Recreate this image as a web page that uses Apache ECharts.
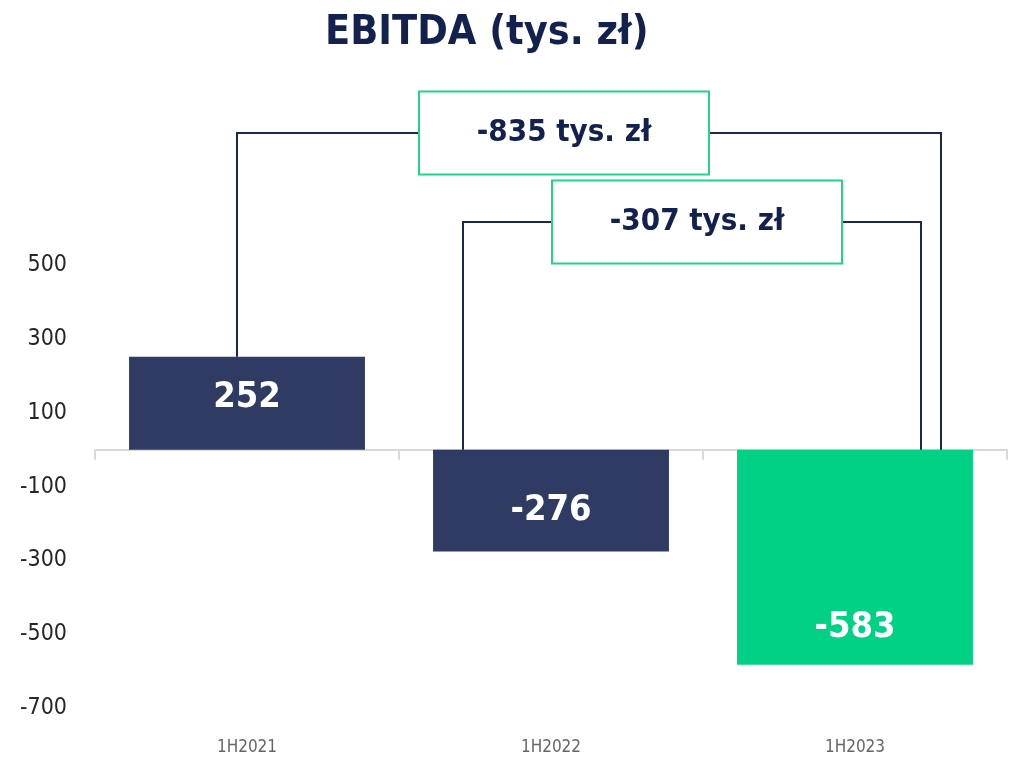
<!DOCTYPE html>
<html>
<head>
<meta charset="utf-8">
<script src="https://cdn.jsdelivr.net/npm/echarts@6/dist/echarts.min.js"></script>
<style>
  html, body { margin: 0; padding: 0; background: #fff; }
  #chart { width: 1015px; height: 764px; }
</style>
</head>
<body>
<div id="chart"></div>
<script>
// data
var periods = ['1H2021', '1H2022', '1H2023'];
var ebitda = [252, -276, -583];
var barColors = ['#2f3b63', '#2f3b63', '#00d185'];
// difference brackets: from period -> to period, drawn at a given height
var diffFrom = [0, 1];
var diffTo = [2, 2];
var diffLevel = [860, 617];
var diffLabels = ['-835 tys. zł', '-307 tys. zł'];

var NAVY = '#13214f';
var FONT = "'DejaVu Sans Condensed', 'Liberation Sans Narrow', sans-serif";

// pixel offsets of the bracket legs and boxes (style only)
var legShift = [[-10, 86], [-88, 66]];
var boxShift = [-25, 5];
var labelShift = [-6, 10, 70];

var myChart = echarts.init(document.getElementById('chart'));

var barData = ebitda.map(function (v, i) {
    return {
        value: v,
        itemStyle: { color: barColors[i] },
        label: { offset: [0, labelShift[i]] }
    };
});

var bracketData = diffFrom.map(function (f, i) {
    var fv = Math.max(ebitda[f], 0);
    var tv = Math.max(ebitda[diffTo[i]], 0);
    return [f, diffTo[i], diffLevel[i], fv, tv];
});

function renderBracket(params, api) {
    var i = params.dataIndex;
    var p1 = api.coord([api.value(0), api.value(3)]);
    var p2 = api.coord([api.value(1), api.value(4)]);
    var lv = Math.round(api.coord([api.value(0), api.value(2)])[1]);
    var x1 = Math.round(p1[0] + legShift[i][0]);
    var x2 = Math.round(p2[0] + legShift[i][1]);
    var cx = Math.round((x1 + x2) / 2 + boxShift[i]);
    var bw = 290, bh = 83;
    return {
        type: 'group',
        children: [
            {
                type: 'polyline',
                shape: { points: [[x1, p1[1]], [x1, lv], [x2, lv], [x2, p2[1]]] },
                style: { stroke: '#1b2750', lineWidth: 2, fill: null }
            },
            {
                type: 'rect',
                shape: { x: cx - bw / 2, y: lv - bh / 2, width: bw, height: bh },
                style: { fill: '#fff', stroke: '#22d48a', lineWidth: 2 }
            },
            {
                type: 'text',
                x: cx, y: lv,
                style: {
                    text: diffLabels[i],
                    align: 'center', verticalAlign: 'middle',
                    fill: NAVY, font: 'bold 31px ' + FONT
                }
            }
        ]
    };
}

var option = {
    animation: false,
    title: {
        text: 'EBITDA (tys. zł)',
        left: 320,
        top: 8,
        textStyle: { color: NAVY, fontSize: 41, fontWeight: 'bold', fontFamily: FONT }
    },
    grid: { left: 95, right: 8, top: 44, bottom: 56 },
    xAxis: [
        {
            type: 'category',
            data: periods,
            position: 'bottom',
            axisLine: { show: true, onZero: true, lineStyle: { color: '#d9d9d9', width: 2 } },
            axisTick: { show: true, interval: 0, length: 10, lineStyle: { color: '#d9d9d9', width: 2 } },
            axisLabel: { show: false }
        },
        {
            type: 'category',
            data: periods,
            position: 'bottom',
            axisLine: { show: false, onZero: false },
            axisTick: { show: false },
            axisLabel: { margin: 31, color: '#666', fontSize: 17, fontFamily: FONT }
        }
    ],
    yAxis: {
        type: 'value',
        min: -700,
        max: 1100,
        interval: 200,
        splitLine: { show: false },
        axisLine: { show: false },
        axisTick: { show: false },
        axisLabel: {
            margin: 28,
            color: '#262626',
            fontSize: 23,
            fontFamily: FONT,
            formatter: function (v) { return v > 500 ? '' : v; }
        }
    },
    series: [
        {
            type: 'bar',
            xAxisIndex: 0,
            barWidth: '77.6%',
            data: barData,
            label: {
                show: true,
                position: 'inside',
                color: '#fff',
                fontSize: 36,
                fontWeight: 'bold',
                fontFamily: FONT
            }
        },
        {
            type: 'custom',
            xAxisIndex: 0,
            clip: false,
            z: 5,
            renderItem: renderBracket,
            encode: { x: 0, y: 2 },
            data: bracketData
        }
    ]
};

myChart.setOption(option);
</script>
</body>
</html>
